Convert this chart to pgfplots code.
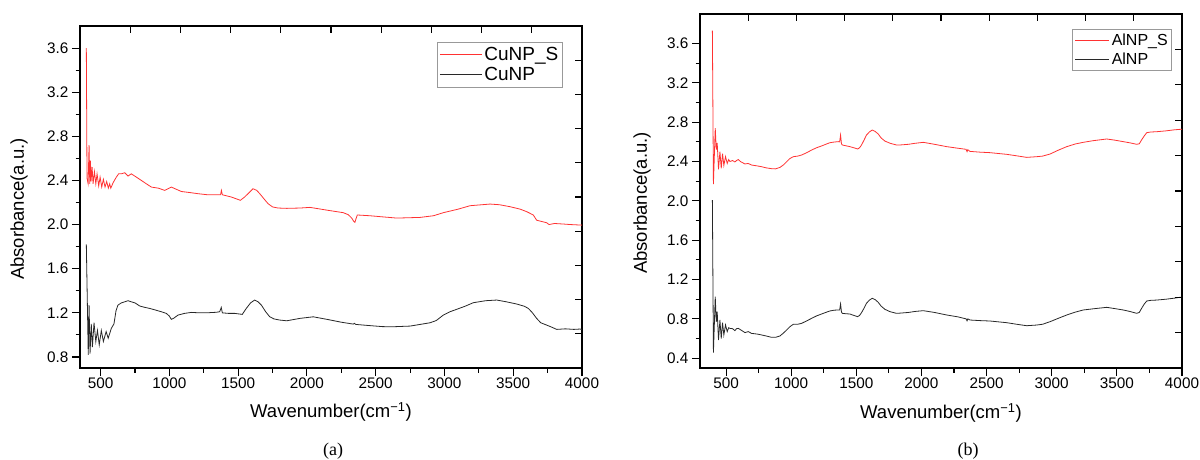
\documentclass[border=0pt]{standalone}
\usepackage{pgfplots}
\pgfplotsset{compat=1.18}
\usepackage{pgfplotstable}
\usepackage{fontspec}
\setmainfont{Liberation Sans}
\newfontfamily\serifcap{Liberation Serif}
\newcommand\tickfont{\fontsize{15.3}{18}\selectfont}
\newcommand\labfont{\fontsize{18.5}{21}\selectfont}
\definecolor{myred}{RGB}{255,50,50}
\definecolor{mygray}{RGB}{40,40,40}

\pgfplotstableread{
x y
396 3.60
401 2.42
409 2.37
416 2.72
421 2.37
426 2.58
430 2.39
438 2.52
445 2.37
455 2.48
465 2.37
474 2.46
486 2.35
496 2.43
508 2.34
520 2.41
532 2.34
544 2.39
556 2.33
566 2.37
574 2.33
591 2.38
614 2.43
631 2.46
651 2.46
675 2.47
699 2.44
723 2.46
760 2.43
796 2.40
832 2.37
869 2.34
920 2.33
966 2.31
1014 2.34
1050 2.32
1087 2.30
1150 2.29
1208 2.28
1280 2.27
1353 2.27
1372 2.27
1378 2.31
1385 2.27
1450 2.25
1516 2.22
1547 2.25
1580 2.29
1608 2.325
1635 2.31
1657 2.28
1690 2.23
1717 2.19
1750 2.16
1790 2.15
1853 2.147
1950 2.15
2022 2.156
2150 2.13
2264 2.108
2300 2.09
2325 2.06
2340 2.03
2349 2.02
2356 2.05
2366 2.087
2459 2.08
2550 2.07
2653 2.059
2822 2.065
2920 2.08
2992 2.108
3100 2.14
3186 2.171
3331 2.186
3400 2.18
3477 2.162
3550 2.14
3598 2.117
3646 2.087
3670 2.04
3700 2.03
3743 2.017
3760 2.00
3800 2.01
3864 2.005
3920 2.00
3985 1.996
4000 1.995
}\cuS

\pgfplotstableread{
x y
396 1.82
410 0.82
416 1.27
423 0.83
432 1.10
440 0.89
452 1.11
465 0.94
477 1.04
490 0.91
505 1.04
520 0.94
540 1.03
555 0.97
578 1.06
597 1.10
612 1.22
626 1.27
650 1.29
675 1.30
700 1.31
723 1.30
750 1.29
784 1.262
820 1.25
857 1.24
900 1.225
941 1.21
978 1.195
1000 1.17
1014 1.141
1030 1.15
1063 1.18
1110 1.195
1159 1.204
1220 1.20
1281 1.201
1340 1.205
1366 1.21
1377 1.25
1385 1.20
1430 1.195
1475 1.195
1530 1.186
1559 1.24
1590 1.29
1620 1.316
1645 1.30
1669 1.27
1700 1.21
1729 1.165
1760 1.145
1800 1.135
1853 1.128
1950 1.15
2046 1.164
2150 1.14
2250 1.115
2337 1.098
2345 1.105
2355 1.095
2450 1.085
2550 1.075
2628 1.074
2750 1.08
2895 1.11
2940 1.13
2992 1.18
3040 1.21
3089 1.232
3150 1.26
3210 1.292
3300 1.31
3380 1.316
3450 1.30
3525 1.28
3580 1.26
3610 1.24
3640 1.20
3670 1.15
3700 1.11
3743 1.089
3780 1.07
3816 1.05
3880 1.055
3940 1.05
3985 1.053
4000 1.05
}\cu

\pgfplotstableread{
x y
395 3.73
403 2.17
417 2.74
425 2.52
432 2.59
442 2.32
453 2.50
463 2.33
473 2.48
483 2.36
496 2.45
509 2.38
520 2.42
530 2.40
550 2.41
568 2.395
580 2.41
594 2.42
610 2.40
645 2.375
670 2.38
696 2.364
740 2.355
773 2.347
810 2.335
850 2.327
880 2.325
914 2.34
940 2.365
965 2.398
990 2.43
1016 2.449
1050 2.455
1080 2.466
1120 2.49
1157 2.517
1195 2.54
1233 2.558
1265 2.575
1297 2.591
1330 2.598
1361 2.602
1372 2.60
1379 2.669
1386 2.58
1392 2.568
1420 2.56
1451 2.551
1480 2.54
1510 2.527
1525 2.54
1540 2.568
1560 2.62
1578 2.669
1600 2.70
1622 2.72
1645 2.705
1668 2.68
1690 2.64
1719 2.608
1760 2.585
1808 2.568
1835 2.568
1900 2.575
1950 2.585
2014 2.595
2100 2.575
2194 2.551
2280 2.535
2342 2.524
2350 2.50
2356 2.52
2372 2.503
2450 2.495
2526 2.49
2654 2.473
2730 2.458
2808 2.442
2885 2.449
2930 2.455
2987 2.476
3050 2.515
3115 2.551
3180 2.578
3242 2.595
3319 2.612
3422 2.629
3480 2.618
3549 2.602
3600 2.59
3652 2.575
3672 2.58
3690 2.62
3710 2.66
3729 2.693
3760 2.70
3806 2.703
3880 2.712
3940 2.722
3985 2.727
4000 2.727
}\alS

\pgfplotstableread{
x y
395 2.008
403 0.456
417 1.025
425 0.77
432 0.873
442 0.585
453 0.788
463 0.60
473 0.76
483 0.636
496 0.738
509 0.67
520 0.71
530 0.703
550 0.70
568 0.68
580 0.70
594 0.703
610 0.69
645 0.66
670 0.67
696 0.652
740 0.645
773 0.636
810 0.625
850 0.612
880 0.612
914 0.626
940 0.655
965 0.686
990 0.72
1016 0.744
1050 0.745
1080 0.754
1120 0.78
1157 0.805
1195 0.83
1233 0.849
1265 0.865
1297 0.88
1330 0.888
1361 0.89
1372 0.89
1379 0.951
1386 0.87
1392 0.856
1420 0.852
1451 0.849
1480 0.835
1510 0.822
1525 0.835
1540 0.863
1560 0.91
1578 0.958
1600 0.99
1622 1.009
1645 0.995
1668 0.968
1690 0.93
1719 0.897
1760 0.872
1808 0.856
1835 0.858
1900 0.865
1950 0.875
2014 0.883
2100 0.865
2194 0.839
2280 0.82
2342 0.80
2350 0.78
2356 0.80
2372 0.788
2450 0.782
2526 0.778
2654 0.761
2730 0.745
2808 0.73
2885 0.737
2930 0.745
2987 0.771
3050 0.805
3115 0.839
3180 0.868
3242 0.89
3319 0.902
3422 0.917
3480 0.905
3549 0.89
3600 0.875
3652 0.856
3672 0.865
3690 0.907
3710 0.95
3729 0.981
3760 0.988
3806 0.991
3880 1.0
3940 1.01
3985 1.019
4000 1.02
}\al

\pgfplotsset{
  mainax/.style={
    scale only axis,
    anchor=south west,
    axis line style={line width=1.2pt},
    tick style={line width=1.1pt, black},
    tick align=outside,
    xtick pos=left, ytick pos=left,
    major tick length=8pt, minor tick length=4.5pt,
    minor x tick num=1, minor y tick num=1,
    xmax=4000,
    xtick={500,1000,...,4000},
    ticklabel style={font=\tickfont},
    xticklabel style={yshift=2pt},
    /pgf/number format/assume math mode=true,
    /pgf/number format/1000 sep={},
    yticklabel style={/pgf/number format/fixed, /pgf/number format/fixed zerofill, /pgf/number format/precision=1},
    label style={font=\labfont},
    xlabel={Wavenumber(cm\textsuperscript{−1})},
    ylabel={Absorbance(a.u.)},
    legend cell align=left,
  },
  legA/.style={legend image code/.code={\draw[##1,line width=1pt] (0pt,0pt) -- (42pt,0pt);}},
  legB/.style={legend image code/.code={\draw[##1,line width=1.2pt] (0pt,0pt) -- (34pt,0pt);}},
  mirrorax/.style={
    scale only axis,
    anchor=south west,
    xmin=0, xmax=10, ymin=0, ymax=10,
    axis line style={draw=none},
    xtick={1,...,9}, ytick={1,...,9},
    xtick pos=right, ytick pos=right,
    tick align=inside,
    major tick length=7pt,
    tick style={line width=1.1pt, black},
    xticklabels={}, yticklabels={},
  },
  redline/.style={color=myred, line width=0.8pt},
  grayline/.style={color=mygray, line width=0.8pt},
}

\begin{document}
\begin{tikzpicture}
\path[use as bounding box] (0pt,0pt) rectangle (1200pt,-460pt);

% ---------- (a)
\begin{axis}[mainax, legA,
  at={(80pt,-368pt)}, width=502pt, height=342pt,
  xmin=350, ymin=0.7, ymax=3.8,
  ytick={0.8,1.2,...,3.61},
  xlabel style={at={(axis description cs:0.5,-0.129)}, anchor=center},
  ylabel style={at={(axis description cs:-0.1215,0.465)}, anchor=center},
  legend style={at={(rel axis cs:0.711,0.953)}, anchor=north west, draw=gray!80, line width=0.9pt,
    font=\fontsize{19}{20}\selectfont, inner xsep=2pt, inner ysep=3pt, row sep=1pt},
]
\addplot[redline, forget plot] table[x=x,y=y] {\cuS};
\addplot[grayline, forget plot] table[x=x,y=y] {\cu};
\addlegendimage{myred}
\addlegendentry{CuNP\_S}
\addlegendimage{mygray}
\addlegendentry{CuNP}
\end{axis}
\begin{axis}[mirrorax, at={(80pt,-368pt)}, width=502pt, height=342pt]
\end{axis}

% ---------- (b)
\begin{axis}[mainax, legB,
  at={(700pt,-368pt)}, width=482pt, height=354pt,
  xmin=300, ymin=0.3, ymax=3.9,
  ytick={0.4,0.8,...,3.61},
  xlabel style={at={(axis description cs:0.5,-0.127)}, anchor=center},
  ylabel style={at={(axis description cs:-0.12,0.466)}, anchor=center},
  legend style={at={(rel axis cs:0.772,0.958)}, anchor=north west, draw=gray!80, line width=0.9pt,
    font=\fontsize{16}{18}\selectfont, inner xsep=2pt, inner ysep=2.5pt, row sep=2pt},
]
\addplot[redline, forget plot] table[x=x,y=y] {\alS};
\addplot[grayline, forget plot] table[x=x,y=y] {\al};
\addlegendimage{myred}
\addlegendentry{AlNP\_S}
\addlegendimage{mygray}
\addlegendentry{AlNP}
\end{axis}
\begin{axis}[mirrorax, at={(700pt,-368pt)}, width=482pt, height=354pt]
\end{axis}

\node[font=\serifcap\fontsize{18}{20}\selectfont] at (333pt,-451pt) {(a)};
\node[font=\serifcap\fontsize{18}{20}\selectfont] at (968pt,-451pt) {(b)};
\end{tikzpicture}
\end{document}
